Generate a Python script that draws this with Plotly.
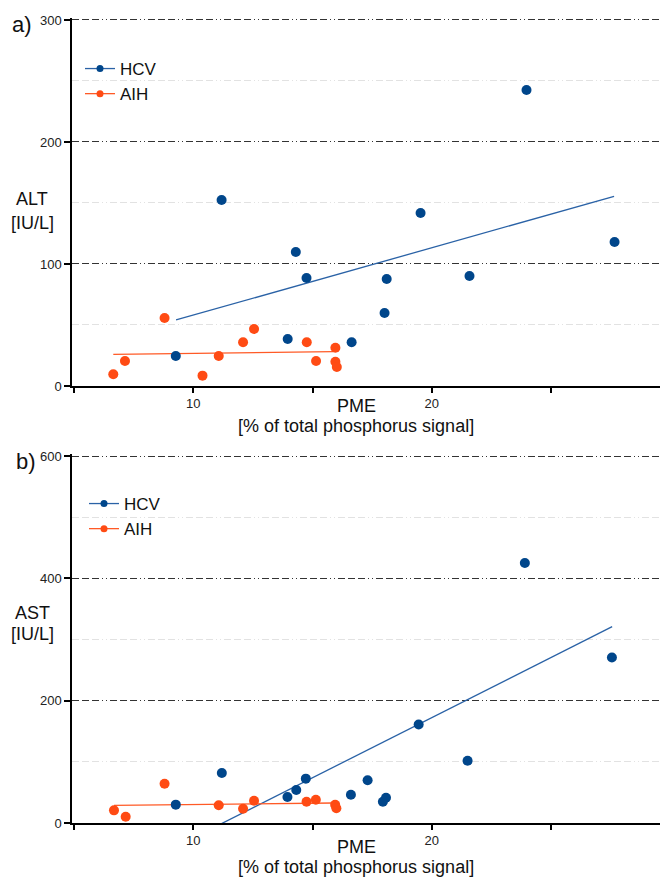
import plotly.graph_objects as go

# ---------------- data ----------------
# Panel a) ALT vs PME
alt_hcv_pme = [9.27, 11.19, 13.96, 14.30, 14.75, 16.64, 18.02, 18.11, 19.53, 21.58, 23.97, 27.66]
alt_hcv_val = [24.6, 152.5, 38.5, 109.8, 88.5, 35.8, 59.8, 87.7, 141.8, 90.2, 242.6, 118.0]
alt_aih_pme = [6.65, 7.14, 8.80, 10.39, 11.07, 12.09, 12.55, 14.76, 15.15, 15.96, 15.96, 16.02]
alt_aih_val = [9.6, 20.5, 55.7, 8.5, 24.6, 35.8, 46.7, 35.8, 20.5, 31.4, 19.9, 15.6]
alt_hcv_fit_pme = [9.28, 27.64]
alt_hcv_fit_val = [54.1, 155.5]
alt_aih_fit_pme = [6.65, 15.88]
alt_aih_fit_val = [26.0, 28.1]

# Panel b) AST vs PME
ast_hcv_pme = [9.27, 11.20, 13.95, 14.32, 14.72, 16.61, 17.31, 17.95, 18.08, 19.45, 21.50, 23.90, 27.55]
ast_hcv_val = [30.0, 81.7, 42.5, 54.0, 72.5, 46.3, 69.8, 34.8, 41.4, 161.0, 101.9, 425.0, 270.5]
ast_aih_pme = [6.68, 7.17, 8.80, 11.07, 12.09, 12.55, 14.75, 15.14, 15.95, 16.00]
ast_aih_val = [20.7, 10.3, 64.3, 28.9, 23.4, 36.5, 34.8, 38.1, 29.9, 24.0]
ast_hcv_fit_pme = [9.27, 27.56]
ast_hcv_fit_val = [-38.7, 321.0]
ast_aih_fit_pme = [6.68, 15.88]
ast_aih_fit_val = [28.9, 32.7]

x_tickvals = [5, 10, 15, 20, 25]
x_ticktext = ["", "10", "", "20", ""]
alt_ticks = [0, 100, 200, 300]
alt_minor = [50, 150, 250]
ast_ticks = [0, 200, 400, 600]
ast_minor = [100, 300, 500]

# ---------------- styling ----------------
FONT = "Liberation Sans, Arial, sans-serif"
BLUE = "#00468b"
BLUE_LINE = "#2a62a6"
ORANGE = "#ff4b14"
ORANGE_LINE = "#ff5a26"
MAJOR_DASH = "7px,3px,7px,3px,7px,3px,1px,3px,1px,3px"

OFF = 8                 # page body margin in the browser
W, H = 668 - OFF, 877 - OFF
L = 72 - OFF

fig = go.Figure()


def add_panel(xa, ya, hx, hy, ax, ay, hfx, hfy, afx, afy, legend):
    fig.add_trace(go.Scatter(x=hfx, y=hfy, mode="lines", line=dict(color=BLUE_LINE, width=1.3),
                             xaxis=xa, yaxis=ya, showlegend=False, hoverinfo="skip"))
    fig.add_trace(go.Scatter(x=afx, y=afy, mode="lines", line=dict(color=ORANGE_LINE, width=1.3),
                             xaxis=xa, yaxis=ya, showlegend=False, hoverinfo="skip"))
    fig.add_trace(go.Scatter(x=hx, y=hy, mode="markers", marker=dict(color=BLUE, size=10),
                             xaxis=xa, yaxis=ya, showlegend=False, name="HCV"))
    fig.add_trace(go.Scatter(x=ax, y=ay, mode="markers", marker=dict(color=ORANGE, size=10),
                             xaxis=xa, yaxis=ya, showlegend=False, name="AIH"))
    # legend entries
    fig.add_trace(go.Scatter(x=[None], y=[None], mode="lines+markers", name="HCV",
                             marker=dict(color=BLUE, size=7), line=dict(color=BLUE_LINE, width=1.3),
                             xaxis=xa, yaxis=ya, legend=legend))
    fig.add_trace(go.Scatter(x=[None], y=[None], mode="lines+markers", name="AIH",
                             marker=dict(color=ORANGE, size=7), line=dict(color=ORANGE_LINE, width=1.3),
                             xaxis=xa, yaxis=ya, legend=legend))


add_panel("x", "y", alt_hcv_pme, alt_hcv_val, alt_aih_pme, alt_aih_val,
          alt_hcv_fit_pme, alt_hcv_fit_val, alt_aih_fit_pme, alt_aih_fit_val, "legend")
add_panel("x2", "y2", ast_hcv_pme, ast_hcv_val, ast_aih_pme, ast_aih_val,
          ast_hcv_fit_pme, ast_hcv_fit_val, ast_aih_fit_pme, ast_aih_fit_val, "legend2")


def py2paper(py):
    # py: page pixel (reference coordinates)
    return (H - (py - OFF)) / H


def px2paper(px):
    return (px - OFF - L) / (W - L)


xaxis_style = dict(range=[4.92, 29.9], tickmode="array", tickvals=x_tickvals, ticktext=x_ticktext,
                   ticks="outside", ticklen=5, tickwidth=1.5, tickcolor="black", automargin=False,
                   showline=True, linecolor="black", linewidth=1.5, showgrid=False, zeroline=False,
                   tickfont=dict(family=FONT, size=13, color="#222"), fixedrange=True)


def yaxis_style(rng, ticks, minor):
    return dict(range=rng, tickmode="array", tickvals=ticks, ticks="outside", ticklen=6, tickwidth=1.5,
                tickcolor="black", showline=True, linecolor="black", linewidth=1.5, automargin=False,
                showgrid=True, gridcolor="#333333", gridwidth=1, griddash=MAJOR_DASH, zeroline=False,
                minor=dict(tickmode="array", tickvals=minor, showgrid=True, gridcolor="#e2e2e2",
                           griddash=MAJOR_DASH, gridwidth=1, ticks=""),
                tickfont=dict(family=FONT, size=13, color="#222"), fixedrange=True)


# a little head-room above the top tick so its grid line is drawn
ALT_TOP, AST_TOP = 301.6, 603.2
alt_px_per = (386 - 20) / 300
ast_px_per = (823 - 456) / 600

fig.update_layout(
    width=W, height=H,
    margin=dict(l=L, r=0, t=0, b=0, autoexpand=False),
    paper_bgcolor="white", plot_bgcolor="white",
    font=dict(family=FONT, color="#111"),
    xaxis=dict(domain=[0, 1], anchor="y", **xaxis_style),
    yaxis=dict(domain=[py2paper(386), py2paper(386 - ALT_TOP * alt_px_per)], anchor="x",
               **yaxis_style([0, ALT_TOP], alt_ticks, alt_minor)),
    xaxis2=dict(domain=[0, 1], anchor="y2", **xaxis_style),
    yaxis2=dict(domain=[py2paper(823), py2paper(823 - AST_TOP * ast_px_per)], anchor="x2",
                **yaxis_style([0, AST_TOP], ast_ticks, ast_minor)),
    legend=dict(x=px2paper(80), y=py2paper(51), xanchor="left", yanchor="top",
                font=dict(family=FONT, size=17, color="#111"), bgcolor="rgba(0,0,0,0)",
                tracegroupgap=0),
    legend2=dict(x=px2paper(84), y=py2paper(486), xanchor="left", yanchor="top",
                 font=dict(family=FONT, size=17, color="#111"), bgcolor="rgba(0,0,0,0)",
                 tracegroupgap=0),
    showlegend=True,
)

ann = [
    ("a)", 22, 25, 22), ("b)", 26, 461, 22),
    ("ALT", 32, 199, 18), ("[IU/L]", 32, 223, 18),
    ("AST", 32, 613, 18), ("[IU/L]", 32, 634, 18),
    ("PME", 356, 406, 18), ("[% of total phosphorus signal]", 356, 426, 18),
    ("PME", 356, 847, 18), ("[% of total phosphorus signal]", 356, 867, 18),
]
for text, px, py, size in ann:
    fig.add_annotation(text=text, x=px2paper(px), y=py2paper(py), xref="paper", yref="paper",
                       xanchor="center", yanchor="middle", showarrow=False,
                       font=dict(family=FONT, size=size, color="#111"))

fig.write_html("out.html")
